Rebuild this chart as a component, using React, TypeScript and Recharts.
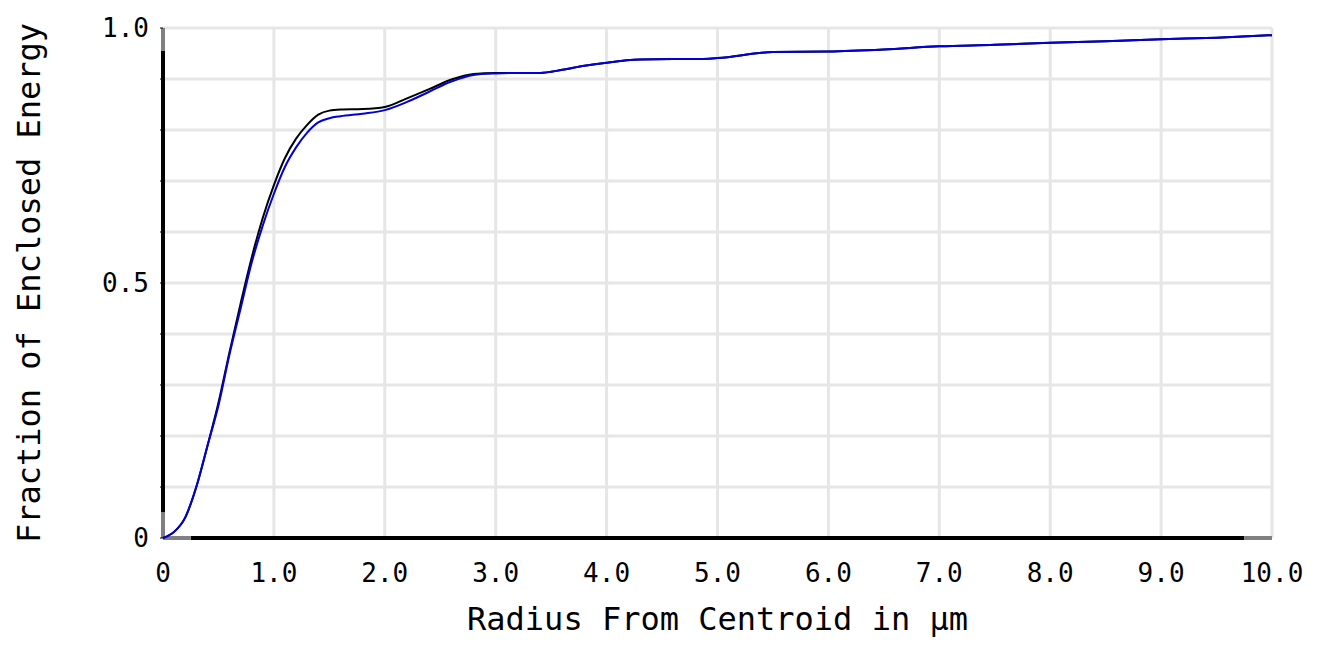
import { LineChart, Line, XAxis, YAxis, CartesianGrid, ReferenceLine, Label } from "recharts";

const radius = [
  0, 0.1, 0.2, 0.3, 0.4, 0.5, 0.6, 0.7, 0.8, 0.9, 1.0, 1.1, 1.2, 1.3, 1.4, 1.5, 1.6, 1.8, 2.0,
  2.2, 2.4, 2.6, 2.8, 3.0, 3.2, 3.4, 3.6, 3.8, 4.0, 4.3, 4.6, 4.8, 5.0, 5.5, 6.0, 6.5, 7.0, 7.5,
  8.0, 8.5, 9.0, 9.5, 10.0,
];

const blueEnergy = [
  0, 0.012, 0.04, 0.1, 0.18, 0.26, 0.36, 0.45, 0.54, 0.613, 0.675, 0.728, 0.766, 0.795, 0.815,
  0.823, 0.827, 0.832, 0.839, 0.855, 0.875, 0.895, 0.908, 0.911, 0.912, 0.912, 0.918, 0.926,
  0.932, 0.938, 0.939, 0.939, 0.941, 0.953, 0.954, 0.958, 0.964, 0.967, 0.971, 0.974, 0.978,
  0.981, 0.986,
];

const blackEnergy = [
  0, 0.012, 0.04, 0.1, 0.18, 0.265, 0.365, 0.46, 0.55, 0.628, 0.692, 0.745, 0.783, 0.81, 0.83,
  0.838, 0.84, 0.841, 0.845, 0.862, 0.88, 0.899, 0.91, 0.912, 0.912, 0.912, 0.918, 0.926,
  0.932, 0.938, 0.939, 0.939, 0.941, 0.953, 0.954, 0.958, 0.964, 0.967, 0.971, 0.974, 0.978,
  0.981, 0.986,
];

const xTicks = [0, 1, 2, 3, 4, 5, 6, 7, 8, 9, 10];
const yTicks = [0, 0.1, 0.2, 0.3, 0.4, 0.5, 0.6, 0.7, 0.8, 0.9, 1.0];
const yLabelled = [0, 0.5, 1.0];

const data = radius.map((r, i) => ({ r, blue: blueEnergy[i], black: blackEnergy[i] }));

const mono = "'DejaVu Sans Mono', monospace";
const tickStyle = { fontFamily: mono, fontSize: 26, fill: "#000" };

const fmtX = (v: number) => (v === 0 ? "0" : v.toFixed(1));
const fmtY = (v: number) => {
  if (!yLabelled.some((t) => Math.abs(t - v) < 1e-9)) return "";
  return v === 0 ? "0" : v.toFixed(1);
};

export default function App() {
  return (
    <div style={{ position: "absolute", left: 0, top: 0, background: "#fff" }}>
      <LineChart
        width={1319}
        height={646}
        data={data}
        margin={{ top: 28, right: 47, bottom: 0, left: 0 }}
      >
        <CartesianGrid stroke="#e6e6e6" strokeWidth={3} />
        <XAxis
          dataKey="r"
          type="number"
          domain={[0, 10]}
          ticks={xTicks}
          tickFormatter={fmtX}
          tick={tickStyle}
          tickLine={false}
          tickMargin={20}
          axisLine={false}
          height={108}
          interval={0}
        >
          <Label
            value="Radius From Centroid in µm"
            position="insideBottom"
            offset={16}
            style={{ fontFamily: mono, fontSize: 32, fill: "#000" }}
          />
        </XAxis>
        <YAxis
          type="number"
          domain={[0, 1]}
          ticks={yTicks}
          tickFormatter={fmtY}
          tick={tickStyle}
          tickSize={3}
          tickMargin={11}
          tickLine={{ stroke: "#000" }}
          axisLine={false}
          width={163}
          interval={0}
        >
          <Label
            value="Fraction of Enclosed Energy"
            angle={-90}
            position="insideLeft"
            offset={29}
            style={{ fontFamily: mono, fontSize: 32, fill: "#000", textAnchor: "middle" }}
          />
        </YAxis>
        {/* axis lines: black body with grey end caps */}
        <ReferenceLine segment={[{ x: 0.25, y: 0 }, { x: 9.75, y: 0 }]} stroke="#000" strokeWidth={4} />
        <ReferenceLine segment={[{ x: 0, y: 0.05 }, { x: 0, y: 0.955 }]} stroke="#000" strokeWidth={4} />
        <ReferenceLine segment={[{ x: 0, y: 0 }, { x: 0.25, y: 0 }]} stroke="#808080" strokeWidth={4} />
        <ReferenceLine segment={[{ x: 9.75, y: 0 }, { x: 10, y: 0 }]} stroke="#808080" strokeWidth={4} />
        <ReferenceLine segment={[{ x: 0, y: 0 }, { x: 0, y: 0.05 }]} stroke="#808080" strokeWidth={4} />
        <ReferenceLine segment={[{ x: 0, y: 0.955 }, { x: 0, y: 1 }]} stroke="#808080" strokeWidth={4} />
        <Line
          type="monotone"
          dataKey="black"
          stroke="#000"
          strokeWidth={2}
          dot={false}
          isAnimationActive={false}
        />
        <Line
          type="monotone"
          dataKey="blue"
          stroke="#0000dd"
          strokeWidth={2}
          dot={false}
          isAnimationActive={false}
        />
      </LineChart>
    </div>
  );
}
